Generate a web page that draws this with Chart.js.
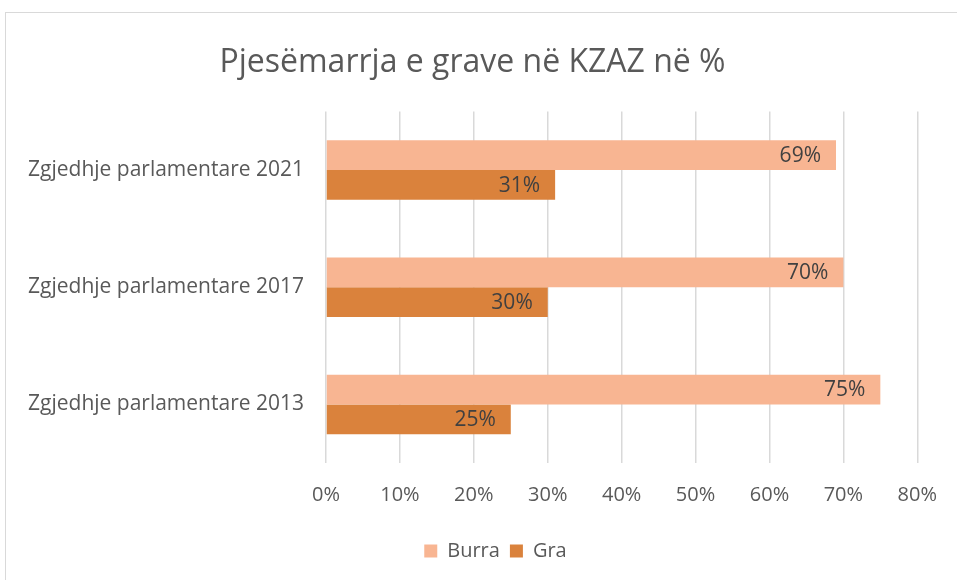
<!DOCTYPE html>
<html>
<head>
<meta charset="utf-8">
<script src="https://cdn.jsdelivr.net/npm/chart.js@4/dist/chart.umd.min.js"></script>
<style>
  html, body { margin: 0; padding: 0; background: #fff; }
  #frame {
    position: absolute; left: 5px; top: 12px;
    width: 960px; height: 580px;
    border-left: 1px solid #d9d9d9; border-top: 1px solid #d9d9d9;
  }
  #wrap { position: absolute; left: 6px; top: 13px; width: 951px; height: 567px; }
</style>
</head>
<body>
<div id="frame"></div>
<div id="wrap"><canvas id="chart"></canvas></div>
<script>
const categories = ['Zgjedhje parlamentare 2021', 'Zgjedhje parlamentare 2017', 'Zgjedhje parlamentare 2013'];
const burra = [69, 70, 75];
const gra = [31, 30, 25];
const tickValues = [0, 10, 20, 30, 40, 50, 60, 70, 80];

const FONT = '"Open Sans", sans-serif';
const GREY = '#595959';

// etiketat e vlerave brenda fundit te shiritit
const valueLabels = {
    id: 'valueLabels',
    afterDatasetsDraw(chart) {
        const ctx = chart.ctx;
        ctx.save();
        ctx.font = '21px ' + FONT;
        ctx.fillStyle = '#404040';
        ctx.textAlign = 'right';
        ctx.textBaseline = 'middle';
        chart.data.datasets.forEach((ds, i) => {
            chart.getDatasetMeta(i).data.forEach((bar, j) => {
                ctx.fillText(ds.data[j] + '%', bar.x - 15, bar.y + 1);
            });
        });
        ctx.restore();
    }
};

// legjenda ne origjinal eshte pak me djathtas dhe me poshte
const legendShift = {
    id: 'legendShift',
    afterLayout(chart) {
        chart.legend.left += 23;
        chart.legend.right += 23;
        chart.legend.top += 4;
        chart.legend.bottom += 4;
    }
};

const ctx = document.getElementById('chart').getContext('2d');
new Chart(ctx, {
    type: 'bar',
    data: {
        labels: categories,
        datasets: [
            { label: 'Burra', data: burra, backgroundColor: '#F8B592', borderWidth: 0 },
            { label: 'Gra', data: gra, backgroundColor: '#DA823C', borderWidth: 0 }
        ]
    },
    options: {
        indexAxis: 'y',
        responsive: true,
        maintainAspectRatio: false,
        animation: false,
        layout: { padding: { left: 0, right: 18, top: 0, bottom: 13 } },
        datasets: { bar: { categoryPercentage: 0.508, barPercentage: 1 } },
        scales: {
            x: {
                min: 0, max: 80,
                afterBuildTicks: (scale) => { scale.ticks = tickValues.map(v => ({ value: v })); },
                grid: { color: '#d9d9d9', lineWidth: 1.5, drawTicks: false },
                border: { display: false },
                ticks: {
                    color: GREY, font: { family: FONT, size: 20 }, padding: 20,
                    callback: (v) => v + '%'
                }
            },
            y: {
                grid: { display: false },
                border: { display: false },
                ticks: { color: GREY, font: { family: FONT, size: 21 }, padding: 14 },
                afterFit: (scale) => { scale.width = 320; }
            }
        },
        plugins: {
            title: {
                display: true,
                text: 'Pjesëmarrja e grave në KZAZ në %',
                color: GREY,
                font: { family: FONT, size: 32, weight: 'normal' },
                padding: { top: 31, bottom: 29 }
            },
            legend: {
                position: 'bottom',
                labels: {
                    color: GREY, font: { family: FONT, size: 20 },
                    boxWidth: 13, boxHeight: 13, padding: 10
                }
            },
            tooltip: { enabled: false }
        }
    },
    plugins: [valueLabels, legendShift]
});
</script>
</body>
</html>
